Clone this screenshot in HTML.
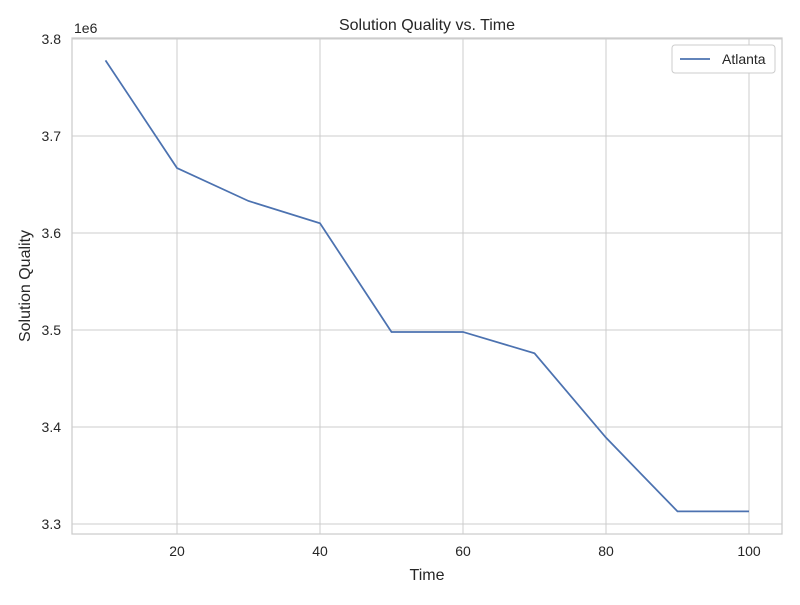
<!DOCTYPE html>
<html><head><meta charset="utf-8"><style>
body{margin:0;background:#fff;}
svg text{font-family:"Liberation Sans","DejaVu Sans",sans-serif;fill:#262626;}
</style></head><body>
<svg width="800" height="600" xmlns="http://www.w3.org/2000/svg">
<rect width="800" height="600" fill="#fff"/>
<g id="grid"></g>
<rect x="72" y="38" width="710" height="496" fill="none" stroke="#cccccc" stroke-width="1.25"/>
<g id="ticks"></g>
<path id="line" fill="none" stroke="#4c72b0" stroke-width="1.75"/>
<text x="427" y="30" font-size="16" text-anchor="middle">Solution Quality vs. Time</text>
<text x="427" y="580" font-size="16" text-anchor="middle">Time</text>
<text x="30" y="286" font-size="16" text-anchor="middle" transform="rotate(-90 30 286)">Solution Quality</text>
<text x="74" y="33" font-size="14">1e6</text>
<g>
<rect x="672" y="45" width="103" height="28" rx="3" fill="#fff" stroke="#cccccc"/>
<line x1="680" y1="59" x2="710" y2="59" stroke="#4c72b0" stroke-width="1.75"/>
<text x="722" y="64" font-size="14">Atlanta</text>
</g>
</svg>
<script>
const times=[10,20,30,40,50,60,70,80,90,100];
const quality=[3.778,3.667,3.633,3.610,3.498,3.498,3.476,3.389,3.313,3.313];
const xTicks=[20,40,60,80,100];
const yTicks=[3.3,3.4,3.5,3.6,3.7,3.8];
function xs(v){return 105.5+(v-10)*7.15;}
function ys(v){return 524-(v-3.3)*970;}
const ns="http://www.w3.org/2000/svg";
const g=document.getElementById('grid'),t=document.getElementById('ticks');
xTicks.forEach(v=>{
 const l=document.createElementNS(ns,'line');
 l.setAttribute('x1',xs(v));l.setAttribute('x2',xs(v));l.setAttribute('y1',38);l.setAttribute('y2',534);
 l.setAttribute('stroke','#cccccc');
 
 
 g.appendChild(l);
 const tx=document.createElementNS(ns,'text');
 tx.setAttribute('x',xs(v));tx.setAttribute('y',556);tx.setAttribute('font-size','14');tx.setAttribute('text-anchor','middle');
 tx.textContent=v;
 
 
 t.appendChild(tx);
});
yTicks.forEach(v=>{
 const l=document.createElementNS(ns,'line');
 l.setAttribute('x1',72);l.setAttribute('x2',782);l.setAttribute('y1',ys(v));l.setAttribute('y2',ys(v));
 l.setAttribute('stroke','#cccccc');
 
 
 g.appendChild(l);
 const tx=document.createElementNS(ns,'text');
 tx.setAttribute('x',61);tx.setAttribute('y',ys(v)+5);tx.setAttribute('font-size','14');tx.setAttribute('text-anchor','end');
 tx.textContent=v.toFixed(1);
 
 
 t.appendChild(tx);
});
document.getElementById('line').setAttribute('d',times.map((x,i)=>(i?'L':'M')+xs(x)+','+ys(quality[i])).join(' '));
</script>
</body></html>
